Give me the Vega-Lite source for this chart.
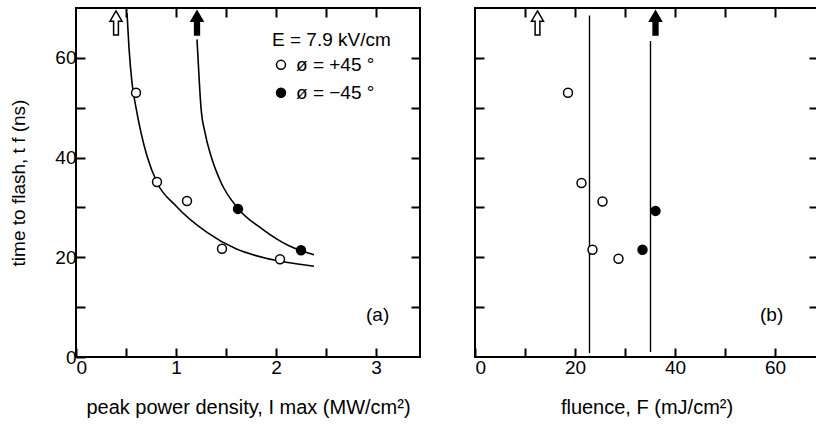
{
  "$schema": "https://vega.github.io/schema/vega-lite/v6.json",
  "padding": {"left": 8, "top": 6, "right": 0, "bottom": 0},
  "spacing": 51,
  "background": "white",
  "config": {
    "view": {"stroke": "black", "strokeWidth": 2},
    "font": "Liberation Sans",
    "axis": {
      "domain": false,
      "grid": false,
      "tickColor": "black",
      "tickWidth": 2,
      "tickSize": -9,
      "labelFont": "Liberation Sans",
      "labelFontSize": 19,
      "labelColor": "black",
      "titleFont": "Liberation Sans",
      "titleFontSize": 19,
      "titleFontWeight": "normal",
      "titleColor": "black",
      "labelPadding": 9
    }
  },
  "datasets": {
    "aCurve": [
      {"x": 0.51, "t": 69, "s": "open"},
      {"x": 0.53, "t": 62, "s": "open"},
      {"x": 0.56, "t": 55, "s": "open"},
      {"x": 0.6, "t": 50, "s": "open"},
      {"x": 0.65, "t": 45, "s": "open"},
      {"x": 0.71, "t": 40.3, "s": "open"},
      {"x": 0.81, "t": 35, "s": "open"},
      {"x": 1.0, "t": 30.3, "s": "open"},
      {"x": 1.31, "t": 25, "s": "open"},
      {"x": 1.6, "t": 21.7, "s": "open"},
      {"x": 1.9, "t": 19.8, "s": "open"},
      {"x": 2.1, "t": 19, "s": "open"},
      {"x": 2.38, "t": 18.2, "s": "open"},
      {"x": 1.21, "t": 63.7, "s": "filled"},
      {"x": 1.22, "t": 60, "s": "filled"},
      {"x": 1.25, "t": 50, "s": "filled"},
      {"x": 1.29, "t": 45, "s": "filled"},
      {"x": 1.35, "t": 40.3, "s": "filled"},
      {"x": 1.45, "t": 35, "s": "filled"},
      {"x": 1.62, "t": 29.8, "s": "filled"},
      {"x": 1.86, "t": 25.7, "s": "filled"},
      {"x": 2.13, "t": 22.3, "s": "filled"},
      {"x": 2.38, "t": 20.5, "s": "filled"}
    ],
    "aPoints": [
      {"x": 0.6, "t": 53, "s": "open"},
      {"x": 0.81, "t": 35.1, "s": "open"},
      {"x": 1.11, "t": 31.3, "s": "open"},
      {"x": 1.46, "t": 21.7, "s": "open"},
      {"x": 2.04, "t": 19.6, "s": "open"},
      {"x": 1.62, "t": 29.7, "s": "filled"},
      {"x": 2.25, "t": 21.4, "s": "filled"},
      {"x": 2.05, "t": 58.6, "s": "open"},
      {"x": 2.05, "t": 53, "s": "filled"}
    ],
    "aArrows": [
      {"x": 0.4, "t": 67, "s": "open"},
      {"x": 1.21, "t": 67, "s": "filled"}
    ],
    "aText": [
      {"x": 1.96, "t": 63.5, "label": "E = 7.9 kV/cm"},
      {"x": 2.2, "t": 58.6, "label": "ø = +45 °"},
      {"x": 2.2, "t": 53, "label": "ø = −45 °"},
      {"x": 2.9, "t": 8.4, "label": "(a)"}
    ],
    "bPoints": [
      {"f": 18.6, "t": 53, "s": "open"},
      {"f": 21.3, "t": 34.9, "s": "open"},
      {"f": 25.5, "t": 31.2, "s": "open"},
      {"f": 23.5, "t": 21.5, "s": "open"},
      {"f": 28.7, "t": 19.7, "s": "open"},
      {"f": 33.5, "t": 21.5, "s": "filled"},
      {"f": 36.1, "t": 29.3, "s": "filled"}
    ],
    "bLines": [
      {"f": 22.9, "t1": 0.8, "t2": 68.5},
      {"f": 35.1, "t1": 1, "t2": 63.4}
    ],
    "bArrows": [
      {"f": 12.5, "t": 67, "s": "open"},
      {"f": 36.1, "t": 67, "s": "filled"}
    ],
    "bText": [
      {"f": 57, "t": 8.4, "label": "(b)"}
    ]
  },
  "hconcat": [
    {
      "width": 344,
      "height": 349,
      "resolve": {"axis": {"x": "independent", "y": "independent"}},
      "layer": [
        {
          "data": {"name": "aCurve"},
          "mark": {"type": "line", "interpolate": "monotone", "color": "black", "strokeWidth": 1.6},
          "encoding": {
            "x": {"field": "x", "type": "quantitative", "scale": {"domain": [0, 3.44], "nice": false},
              "axis": {"orient": "bottom", "values": [0, 0.5, 1, 1.5, 2, 2.5, 3], "labelExpr": "datum.value % 1 == 0 ? format(datum.value, 'd') : ''", "title": "peak power density, I max  (MW/cm²)", "titleFontSize": 20, "labelPadding": 10, "titlePadding": 20}},
            "y": {"field": "t", "type": "quantitative", "scale": {"domain": [0, 70], "nice": false},
              "axis": {"orient": "left", "values": [0, 10, 20, 30, 40, 50, 60], "labelExpr": "datum.value % 20 == 0 ? datum.label : ''", "title": "time to flash, t f (ns)", "titlePadding": 26}},
            "detail": {"field": "s"}
          }
        },
        {
          "data": {"name": "aPoints"},
          "mark": {"type": "point", "shape": "circle", "filled": true, "stroke": "black", "strokeWidth": 1.5, "size": 80, "opacity": 1},
          "encoding": {
            "x": {"field": "x", "type": "quantitative", "scale": {"domain": [0, 3.44], "nice": false},
              "axis": {"orient": "top", "values": [0.5, 1, 1.5, 2, 2.5, 3], "labels": false, "title": null}},
            "y": {"field": "t", "type": "quantitative", "scale": {"domain": [0, 70], "nice": false},
              "axis": {"orient": "right", "values": [10, 20, 30, 40, 50, 60], "labels": false, "title": null}},
            "fill": {"field": "s", "type": "nominal", "scale": {"domain": ["open", "filled"], "range": ["white", "black"]}, "legend": null}
          }
        },
        {
          "data": {"name": "aArrows"},
          "mark": {"type": "point", "shape": "M0,-1L0.5,-0.15L0.2,-0.15L0.2,1L-0.2,1L-0.2,-0.15L-0.5,-0.15Z", "filled": true, "stroke": "black", "strokeWidth": 1.5, "size": 576, "opacity": 1},
          "encoding": {
            "x": {"field": "x", "type": "quantitative", "scale": {"domain": [0, 3.44], "nice": false}, "axis": null},
            "y": {"field": "t", "type": "quantitative", "scale": {"domain": [0, 70], "nice": false}, "axis": null},
            "fill": {"field": "s", "type": "nominal", "scale": {"domain": ["open", "filled"], "range": ["white", "black"]}, "legend": null}
          }
        },
        {
          "data": {"name": "aText"},
          "mark": {"type": "text", "align": "left", "baseline": "middle", "fontSize": 19, "font": "Liberation Sans", "color": "black"},
          "encoding": {
            "x": {"field": "x", "type": "quantitative", "scale": {"domain": [0, 3.44], "nice": false}, "axis": null},
            "y": {"field": "t", "type": "quantitative", "scale": {"domain": [0, 70], "nice": false}, "axis": null},
            "text": {"field": "label"}
          }
        }
      ]
    },
    {
      "width": 343,
      "height": 349,
      "resolve": {"axis": {"x": "independent", "y": "independent"}},
      "layer": [
        {
          "data": {"name": "bLines"},
          "mark": {"type": "rule", "color": "black", "strokeWidth": 1.4},
          "encoding": {
            "x": {"field": "f", "type": "quantitative", "scale": {"domain": [0, 68.6], "nice": false},
              "axis": {"orient": "bottom", "values": [0, 10, 20, 30, 40, 50, 60], "labelExpr": "datum.value % 20 == 0 ? datum.label : ''", "title": "fluence, F  (mJ/cm²)", "titleFontSize": 20, "labelPadding": 10, "titlePadding": 20}},
            "y": {"field": "t1", "type": "quantitative", "scale": {"domain": [0, 70], "nice": false},
              "axis": {"orient": "left", "values": [10, 20, 30, 40, 50, 60], "labels": false, "title": null}},
            "y2": {"field": "t2"}
          }
        },
        {
          "data": {"name": "bPoints"},
          "mark": {"type": "point", "shape": "circle", "filled": true, "stroke": "black", "strokeWidth": 1.5, "size": 80, "opacity": 1},
          "encoding": {
            "x": {"field": "f", "type": "quantitative", "scale": {"domain": [0, 68.6], "nice": false},
              "axis": {"orient": "top", "values": [10, 20, 30, 40, 50, 60], "labels": false, "title": null}},
            "y": {"field": "t", "type": "quantitative", "scale": {"domain": [0, 70], "nice": false},
              "axis": {"orient": "right", "values": [10, 20, 30, 40, 50, 60], "labels": false, "title": null}},
            "fill": {"field": "s", "type": "nominal", "scale": {"domain": ["open", "filled"], "range": ["white", "black"]}, "legend": null}
          }
        },
        {
          "data": {"name": "bArrows"},
          "mark": {"type": "point", "shape": "M0,-1L0.5,-0.15L0.2,-0.15L0.2,1L-0.2,1L-0.2,-0.15L-0.5,-0.15Z", "filled": true, "stroke": "black", "strokeWidth": 1.5, "size": 576, "opacity": 1},
          "encoding": {
            "x": {"field": "f", "type": "quantitative", "scale": {"domain": [0, 68.6], "nice": false}, "axis": null},
            "y": {"field": "t", "type": "quantitative", "scale": {"domain": [0, 70], "nice": false}, "axis": null},
            "fill": {"field": "s", "type": "nominal", "scale": {"domain": ["open", "filled"], "range": ["white", "black"]}, "legend": null}
          }
        },
        {
          "data": {"name": "bText"},
          "mark": {"type": "text", "align": "left", "baseline": "middle", "fontSize": 19, "font": "Liberation Sans", "color": "black"},
          "encoding": {
            "x": {"field": "f", "type": "quantitative", "scale": {"domain": [0, 68.6], "nice": false}, "axis": null},
            "y": {"field": "t", "type": "quantitative", "scale": {"domain": [0, 70], "nice": false}, "axis": null},
            "text": {"field": "label"}
          }
        }
      ]
    }
  ]
}
